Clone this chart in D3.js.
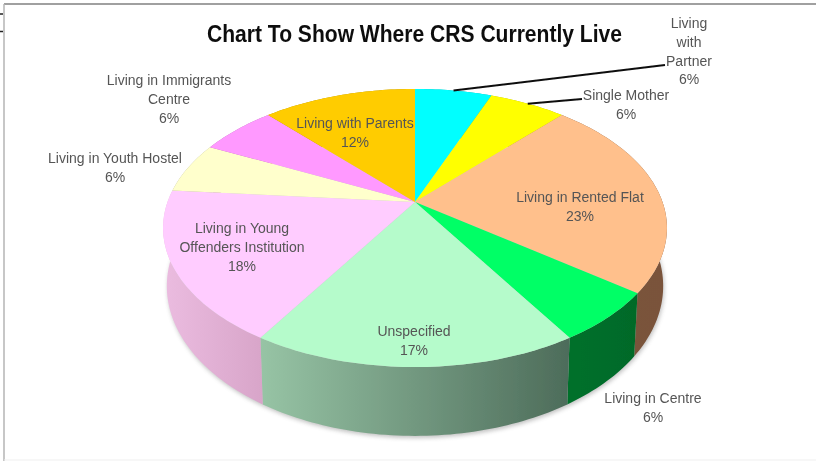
<!DOCTYPE html>
<html>
<head>
<meta charset="utf-8">
<style>
  html, body { margin: 0; padding: 0; background: #fff; }
  svg { display: block; }
  text { font-family: "Liberation Sans", Arial, sans-serif; }
</style>
<script src="https://cdnjs.cloudflare.com/ajax/libs/d3/7.8.5/d3.min.js"></script>
</head>
<body>
<div class="canvas"></div>
<script>
// Slices clockwise from 12 o'clock
const categories = [
  'Living\nwith\nPartner', 'Single Mother', 'Living in Rented Flat', 'Living in Centre',
  'Unspecified', 'Living in Young\nOffenders Institution', 'Living in Youth Hostel',
  'Living in Immigrants\nCentre', 'Living with Parents'
];
// slice sizes as measured on the picture
const shares = [5.9, 5.9, 23.5, 5.9, 17.6, 17.6, 5.9, 5.9, 11.8];
// percentages as printed on the labels
const printed = ['6%', '6%', '23%', '6%', '17%', '18%', '6%', '6%', '12%'];

const topColors = ['#00ffff', '#ffff00', '#ffc08c', '#00ff66', '#b5fbcb', '#ffccff', '#ffffcc', '#ff99ff', '#ffcc00'];
// wall shading, left to right
const wallColors = [
  ['#00b0b0', '#00b0b0'], ['#b0b000', '#b0b000'], ['#7a553a', '#7a533a'], ['#00702c', '#006a28'],
  ['#97c4a5', '#4d6c5a'], ['#ebbce0', '#d8a5c9'], ['#b0b090', '#b0b090'], ['#b070b0', '#b070b0'], ['#b08c00', '#b08c00']
];

// label centre (x, first line y), same order as categories
const labelSpots = [
  [689, 23], [626, 95], [580, 197], [653, 398], [414, 331], [242, 228], [115, 158], [169, 80], [355, 123]
];
const lineGap = 18.8;
// leader lines go from the rim to these points
const leaderEnds = { 0: [665, 65], 1: [582, 99] };

const width = 816, height = 461;

const svg = d3.select('.canvas')
  .append('svg')
  .attr('width', width)
  .attr('height', height);

const defs = svg.append('defs');
defs.append('filter').attr('id', 'soft')
  .attr('x', '-10%').attr('y', '-10%').attr('width', '120%').attr('height', '120%')
  .append('feGaussianBlur').attr('stdDeviation', 2);
defs.append('filter').attr('id', 'edge')
  .append('feGaussianBlur').attr('stdDeviation', 0.4);

// frame of the pasted screenshot
const frame = svg.append('g');
frame.append('line').attr('x1', 4).attr('x2', width).attr('y1', 4).attr('y2', 4)
  .attr('stroke', '#808080').attr('stroke-width', 1.5);
frame.append('line').attr('x1', 4).attr('x2', 4).attr('y1', 4).attr('y2', height)
  .attr('stroke', '#b4b4b4').attr('stroke-width', 1.5);
frame.append('line').attr('x1', 4).attr('x2', width).attr('y1', 460).attr('y2', 460)
  .attr('stroke', '#efefef');
frame.append('path').attr('d', 'M0,14H3M0,31.5H3')
  .attr('fill', 'none').attr('stroke', '#222').attr('stroke-width', 1.5);

// the disc is a circle seen in perspective, so the hub is not the ellipse centre
const cx = 415, hubY = 202, spreadX = 247.5, spreadY = 96.4, tilt = -0.187;
const wallDepth = 56, wallShrink = 0.985;

const topPoint = (a) => {
  const u = Math.sin(a), v = -Math.cos(a), w = 1 + tilt * v;
  return [cx + spreadX * u / w, (hubY + spreadY * v) / w];
};
const bottomPoint = (a) => {
  const v = -Math.cos(a), w = 1 + tilt * v;
  const p = topPoint(a);
  return [cx + (p[0] - cx) * wallShrink, p[1] + wallDepth / w];
};

const arcSteps = (a0, a1) => {
  const n = Math.max(2, Math.ceil((a1 - a0) / 0.02));
  return d3.range(n + 1).map(i => a0 + (a1 - a0) * i / n);
};

const line = d3.line();
const slices = d3.pie().sort(null).value(d => d)(shares);

// soft shadow below the disc
svg.append('path')
  .attr('d', line(arcSteps(0, 2 * Math.PI).map(bottomPoint)) + 'Z')
  .attr('transform', 'translate(1, 2)')
  .attr('fill', '#777')
  .attr('opacity', 0.45)
  .attr('filter', 'url(#soft)');

const pie = svg.append('g').attr('filter', 'url(#edge)');

// walls first, the top surface covers the back ones
slices.forEach((s, i) => {
  const grad = defs.append('linearGradient').attr('id', `wall${i}`);
  grad.append('stop').attr('offset', 0).attr('stop-color', wallColors[i][0]);
  grad.append('stop').attr('offset', 1).attr('stop-color', wallColors[i][1]);

  const steps = arcSteps(s.startAngle, s.endAngle);
  const pts = steps.map(topPoint).concat(steps.slice().reverse().map(bottomPoint));
  pie.append('path')
    .attr('d', line(pts) + 'Z')
    .attr('fill', `url(#wall${i})`);
});

pie.selectAll('path.top')
  .data(slices)
  .enter()
  .append('path')
  .attr('class', 'top')
  .attr('d', s => line([[cx, hubY]].concat(arcSteps(s.startAngle, s.endAngle).map(topPoint))) + 'Z')
  .attr('fill', (s, i) => topColors[i]);

// leader lines
Object.keys(leaderEnds).forEach(k => {
  const s = slices[k];
  pie.append('path')
    .attr('d', line([topPoint((s.startAngle + s.endAngle) / 2), leaderEnds[k]]))
    .attr('fill', 'none')
    .attr('stroke', '#111')
    .attr('stroke-width', 2);
});

// labels
const labels = svg.append('g').attr('filter', 'url(#edge)');
categories.forEach((name, i) => {
  const rows = name.split('\n').concat(printed[i]);
  const t = labels.append('text')
    .attr('text-anchor', 'middle')
    .attr('font-size', 14)
    .attr('fill', '#555');
  rows.forEach((row, r) => {
    t.append('tspan')
      .attr('x', labelSpots[i][0])
      .attr('y', labelSpots[i][1] + r * lineGap + 5)
      .text(row);
  });
});

// title is set tall and narrow in the original
labels.append('text')
  .attr('x', 207)
  .attr('y', 42)
  .attr('textLength', 415)
  .attr('lengthAdjust', 'spacingAndGlyphs')
  .attr('font-size', 23)
  .attr('font-weight', 'bold')
  .attr('fill', '#111')
  .text('Chart To Show Where CRS Currently Live');
</script>
</body>
</html>
